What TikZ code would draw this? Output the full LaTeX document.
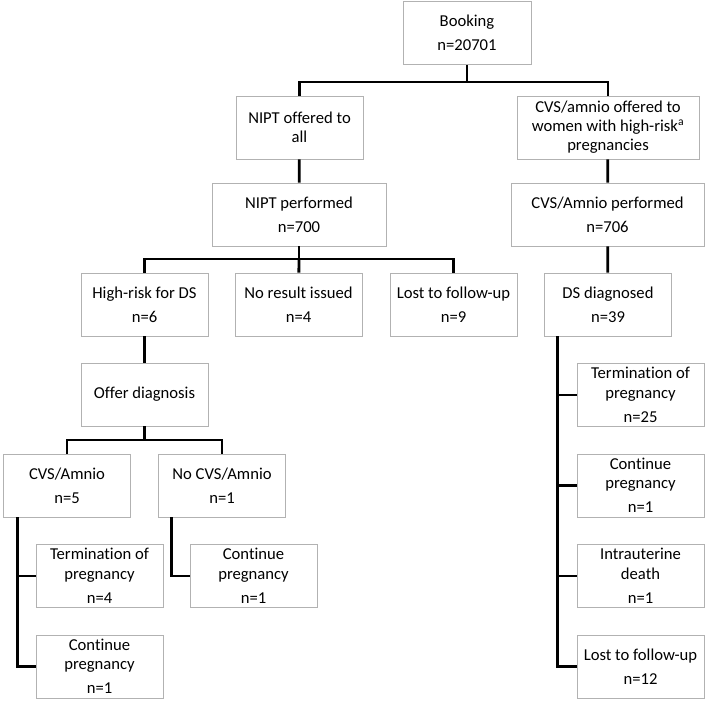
\documentclass[tikz,border=0pt]{standalone}
\usepackage{fontspec}
\setmainfont[Ligatures=NoCommon]{Carlito}
\usetikzlibrary{shadows}
\begin{document}
\begin{tikzpicture}[
        x=0.03cm, y=-0.03cm,
        box/.style={rectangle, draw=gray!60, line width=0.6pt, fill=white,
            drop shadow={shadow xshift=0.6pt, shadow yshift=-0.8pt, opacity=0.25},
            minimum width=3.81cm, minimum height=1.89cm, align=center, inner sep=1pt,
            font=\fontsize{14.2}{16.3}\selectfont},
        link/.style={line width=2.4pt, black}
    ]
        \useasboundingbox (0,0) rectangle (709,706);

        % Top levels
        \node[box, minimum width=3.84cm] (book) at (467,33) {Booking\\[4.5pt]n=20701};

        \node[box] (nipto) at (299.5,127.5) {NIPT offered to\\all};
        \node[box, minimum width=5.46cm] (cvso) at (608,127.5) {CVS/amnio offered to\\women with high-risk\textsuperscript{a}\\pregnancies};

        \node[box, minimum width=5.22cm] (niptp) at (299,214.5) {NIPT performed\\[4.5pt]n=700};
        \node[box, minimum width=5.79cm] (cvsp) at (607.5,214.5) {CVS/Amnio performed\\[4.5pt]n=706};

        % NIPT results
        \node[box] (hr) at (144.5,304.5) {High-risk for DS\\[4.5pt]n=6};
        \node[box] (nores) at (298.5,304.5) {No result issued\\[4.5pt]n=4};
        \node[box] (lostl) at (453.5,304.5) {Lost to follow-up\\[4.5pt]n=9};
        \node[box] (dsd) at (608,304.5) {DS diagnosed\\[4.5pt]n=39};

        \node[box] (offer) at (144.5,394.5) {Offer diagnosis};

        \node[box] (cvsam) at (67,485.5) {CVS/Amnio\\[4.5pt]n=5};
        \node[box] (nocvs) at (222,485.5) {No CVS/Amnio\\[4.5pt]n=1};

        % Outcomes
        \node[box] (terml) at (99.5,576) {Termination of\\pregnancy\\[4.5pt]n=4};
        \node[box] (contl) at (99.5,666.5) {Continue\\pregnancy\\[4.5pt]n=1};
        \node[box] (contm) at (253.5,576) {Continue\\pregnancy\\[4.5pt]n=1};

        \node[box] (termr) at (640.5,395) {Termination of\\pregnancy\\[4.5pt]n=25};
        \node[box] (contr) at (640.5,485.5) {Continue\\pregnancy\\[4.5pt]n=1};
        \node[box] (iud) at (640.5,576) {Intrauterine\\death\\[4.5pt]n=1};
        \node[box] (lostr) at (640.5,666.5) {Lost to follow-up\\[4.5pt]n=12};

        % Junctions
        \coordinate (j1) at (467,82);
        \coordinate (j2) at (299,259);
        \coordinate (j3) at (144.5,440);

        % Connectors
        \draw[link] (book) -- (j1);
        \draw[link] (j1) -| (nipto);
        \draw[link] (j1) -| (cvso);
        \draw[link] (nipto) -- (niptp);
        \draw[link] (cvso) -- (cvsp);
        \draw[link] (niptp) -- (j2);
        \draw[link] (j2) -| (hr);
        \draw[link] (j2) -- (nores);
        \draw[link] (j2) -| (lostl);
        \draw[link] (cvsp) -- (dsd);
        \draw[link] (hr) -- (offer);
        \draw[link] (offer) -- (j3);
        \draw[link] (j3) -| (cvsam);
        \draw[link] (j3) -| (nocvs);
        \draw[link] ([xshift=0.42cm]cvsam.south west) |- (terml.west);
        \draw[link] ([xshift=0.42cm]cvsam.south west) |- (contl.west);
        \draw[link] ([xshift=0.39cm]nocvs.south west) |- (contm.west);
        \draw[link] ([xshift=0.39cm]dsd.south west) |- (termr.west);
        \draw[link] ([xshift=0.39cm]dsd.south west) |- (contr.west);
        \draw[link] ([xshift=0.39cm]dsd.south west) |- (iud.west);
        \draw[link] ([xshift=0.39cm]dsd.south west) |- (lostr.west);
    \end{tikzpicture}
\end{document}
